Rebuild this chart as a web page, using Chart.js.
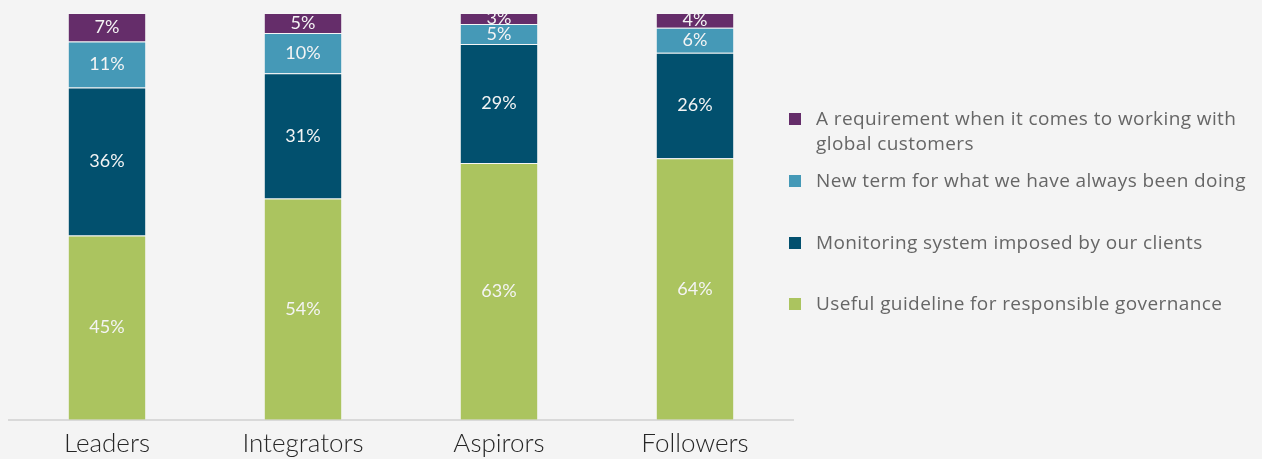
<!DOCTYPE html>
<html>
<head>
<meta charset="utf-8">
<script src="https://cdn.jsdelivr.net/npm/chart.js@4"></script>
<style>
  html, body { margin: 0; padding: 0; background: #f4f4f4; }
  #wrap { position: relative; width: 1262px; height: 459px; }
  #chartBox { position: absolute; left: 0; top: 0; width: 795px; height: 459px; }
  #legend { position: absolute; left: 789px; top: 106px; width: 470px;
            font-family: "Open Sans", Lato, sans-serif; font-size: 19px;
            letter-spacing: 0.4px; color: #666; }
  .item { position: absolute; padding-left: 27px; line-height: 25px; width: 445px; }
  .item .box { position: absolute; left: 0; top: 7px; width: 12px; height: 12px; }
</style>
</head>
<body>
<div id="wrap">
  <div id="chartBox"><canvas id="stackChart"></canvas></div>
  <div id="legend"></div>
</div>
<script>
const categories = ['Leaders', 'Integrators', 'Aspirors', 'Followers'];

// shares per group, bottom segment first
const useful      = [45.3, 54.4, 63.1, 64.3];
const monitoring  = [36.4, 30.8, 29.3, 25.9];
const newTerm     = [11.3, 9.9, 4.9, 6.2];
const requirement = [7.0, 4.9, 2.7, 3.6];

const seriesNames = [
    'Useful guideline for responsible governance',
    'Monitoring system imposed by our clients',
    'New term for what we have always been doing',
    'A requirement when it comes to working with global customers'
];
const seriesColors = ['#abc45f', '#02506e', '#4599b7', '#652d6a'];

const seriesData = [useful, monitoring, newTerm, requirement];

// white % labels centred on each segment
const segmentLabels = {
    id: 'segmentLabels',
    afterDatasetsDraw(chart) {
        const ctx = chart.ctx;
        ctx.save();
        ctx.fillStyle = '#f4f4f4';
        ctx.font = '18px Lato, "Open Sans", sans-serif';
        ctx.textAlign = 'center';
        ctx.textBaseline = 'middle';
        chart.data.datasets.forEach((ds, i) => {
            chart.getDatasetMeta(i).data.forEach((bar, j) => {
                const mid = (bar.y + bar.base) / 2;
                ctx.fillText(Math.round(ds.data[j]) + '%', bar.x, mid);
            });
        });
        ctx.restore();
    }
};

new Chart(document.getElementById('stackChart'), {
    type: 'bar',
    data: {
        labels: categories,
        datasets: seriesData.map((d, i) => ({
            label: seriesNames[i],
            data: d,
            backgroundColor: seriesColors[i],
            borderColor: 'rgba(255,255,255,0.2)',
            borderWidth: 1,
            barPercentage: 0.4,
            categoryPercentage: 1
        }))
    },
    options: {
        responsive: true,
        maintainAspectRatio: false,
        animation: false,
        layout: { padding: { left: 9, right: 2, top: 13, bottom: 0 } },
        plugins: {
            legend: { display: false },
            tooltip: { enabled: false }
        },
        scales: {
            x: {
                stacked: true,
                grid: { display: false },
                border: { display: true, color: '#d9d9d9', width: 2 },
                ticks: {
                    color: '#262626',
                    font: { family: 'Lato, "Open Sans", sans-serif', size: 26, weight: '300' },
                    padding: 0
                }
            },
            y: {
                stacked: true,
                display: false,
                min: 0,
                max: 100
            }
        }
    },
    plugins: [segmentLabels]
});

// html legend, top entry first
const legendEl = document.getElementById('legend');
const order = [3, 2, 1, 0];
const tops = [0, 62, 124, 185];
order.forEach((k, n) => {
    const div = document.createElement('div');
    div.className = 'item';
    div.style.top = tops[n] + 'px';
    div.innerHTML = '<span class="box" style="background:' + seriesColors[k] + '"></span>' + seriesNames[k];
    legendEl.appendChild(div);
});
</script>
</body>
</html>
